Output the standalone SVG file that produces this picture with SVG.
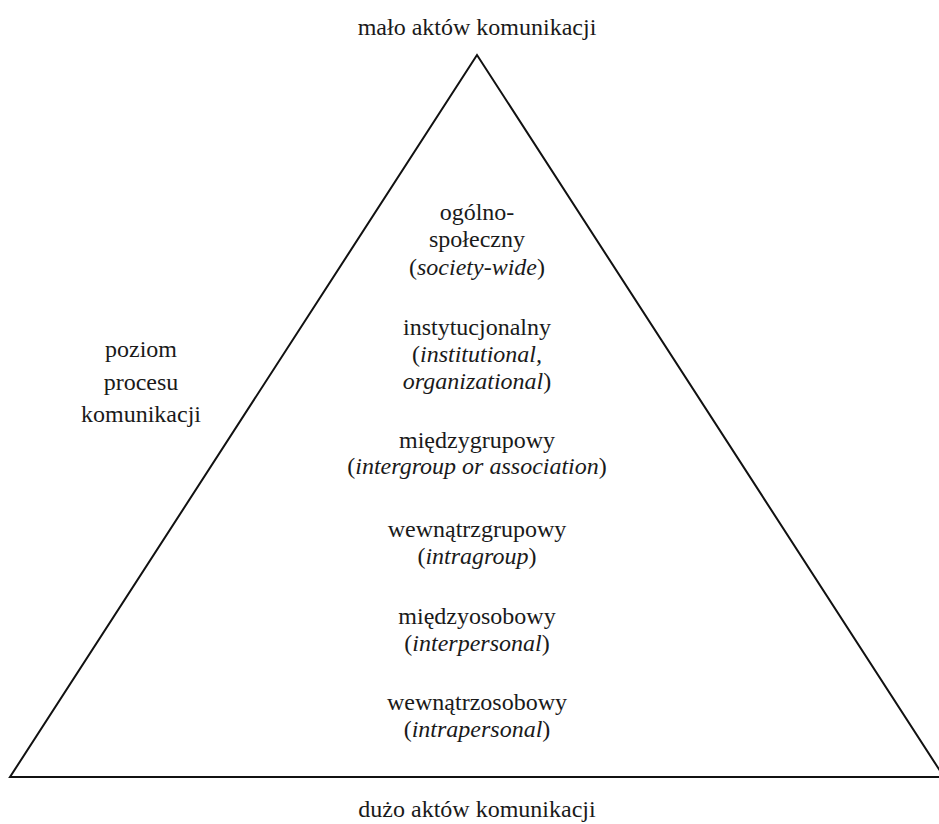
<svg xmlns="http://www.w3.org/2000/svg" width="939" height="824" viewBox="0 0 939 824">
  <style>
    text { font-family: "Liberation Serif", "Times New Roman", serif; font-size: 24px; fill: #1a1a1a; text-anchor: middle; }
    .it { font-style: italic; }
    .edge { fill: none; stroke: #111; stroke-width: 2; stroke-linejoin: miter; }
  </style>
  <rect width="939" height="824" fill="#ffffff"/>

  <!-- pyramid outline -->
  <g id="connectors">
    <polygon class="edge" points="477,55 10,777 944,777"/>
  </g>

  <g id="top-label">
    <text x="477" y="35">mało aktów komunikacji</text>
  </g>
  <g id="bottom-label">
    <text x="477" y="817">dużo aktów komunikacji</text>
  </g>
  <g id="axis-label">
    <text x="141" y="357">poziom</text>
    <text x="141" y="390">procesu</text>
    <text x="141" y="422">komunikacji</text>
  </g>

  <g id="level-society">
    <text x="477" y="220">ogólno-</text>
    <text x="477" y="247">społeczny</text>
    <text x="477" y="275">(<tspan class="it">society-wide</tspan>)</text>
  </g>
  <g id="level-institutional">
    <text x="477" y="335">instytucjonalny</text>
    <text x="477" y="362">(<tspan class="it">institutional,</tspan></text>
    <text x="477" y="389"><tspan class="it">organizational</tspan>)</text>
  </g>
  <g id="level-intergroup">
    <text x="477" y="448">międzygrupowy</text>
    <text x="477" y="474">(<tspan class="it">intergroup or association</tspan>)</text>
  </g>
  <g id="level-intragroup">
    <text x="477" y="537">wewnątrzgrupowy</text>
    <text x="477" y="564">(<tspan class="it">intragroup</tspan>)</text>
  </g>
  <g id="level-interpersonal">
    <text x="477" y="624">międzyosobowy</text>
    <text x="477" y="651">(<tspan class="it">interpersonal</tspan>)</text>
  </g>
  <g id="level-intrapersonal">
    <text x="477" y="710">wewnątrzosobowy</text>
    <text x="477" y="737">(<tspan class="it">intrapersonal</tspan>)</text>
  </g>
</svg>
